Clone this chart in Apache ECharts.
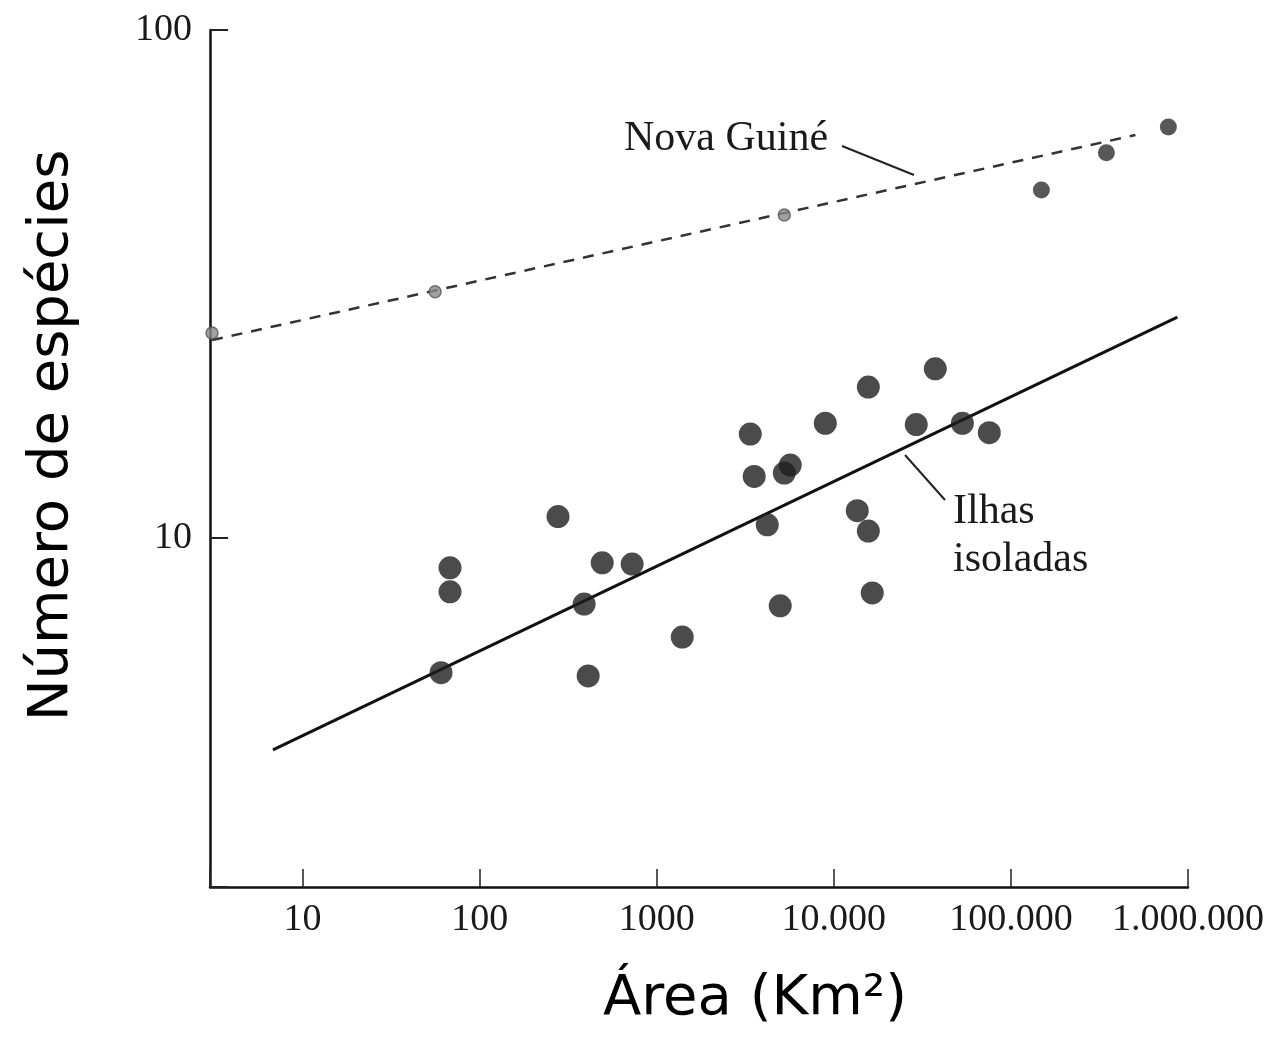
<!DOCTYPE html>
<html>
<head>
<meta charset="utf-8">
<script src="https://cdn.jsdelivr.net/npm/echarts@6/dist/echarts.min.js"></script>
<style>
  html, body { margin: 0; padding: 0; background: #ffffff; }
  #chart { width: 1277px; height: 1047px; }
</style>
</head>
<body>
<div id="chart"></div>
<script>
// ---- Data (área em km², número de espécies) ----
const ilhasArea = [60.5, 68, 68, 277, 389, 410, 492, 726, 1393, 3373, 3550, 4207, 4980, 5250, 5675, 8950, 13560, 15660, 15660, 16480, 29200, 37400, 53200, 75500];
const ilhasEspecies = [5.42, 8.72, 7.82, 11.0, 7.40, 5.34, 8.92, 8.87, 6.37, 16.0, 13.2, 10.6, 7.34, 13.4, 13.9, 16.8, 11.3, 10.3, 19.8, 7.78, 16.7, 21.5, 16.8, 16.1];

const novaGuineArea = [3.08, 56, 5250];
const novaGuineEspecies = [25.3, 30.5, 43.2];
const novaGuineArea2 = [148600, 346000, 775000];
const novaGuineEspecies2 = [48.4, 57.3, 64.4];

// regression lines (endpoints)
const linhaIlhasArea = [6.8, 871000];
const linhaIlhasEspecies = [3.82, 27.2];
const linhaNGArea = [3.08, 505000];
const linhaNGEspecies = [24.5, 62.1];

// tick labels
const xTickValues = [10, 100, 1000, 10000, 100000, 1000000];
const xTickLabels = ['10', '100', '1000', '10.000', '100.000', '1.000.000'];
const yTickValues = [10, 100];
const yTickLabels = ['10', '100'];

const zip = (a, b) => a.map((v, i) => [v, b[i]]);
const lookup = (vals, labels) => (v) => {
  for (let i = 0; i < vals.length; i++) {
    if (Math.abs(Math.log10(v) - Math.log10(vals[i])) < 1e-6) return labels[i];
  }
  return '';
};

const chart = echarts.init(document.getElementById('chart'), null, { renderer: 'canvas' });
const serif = 'Liberation Serif';
const titleFont = 'DejaVu Sans';

chart.setOption({
  backgroundColor: '#ffffff',
  animation: false,
  grid: { left: 210, right: 89, top: 30, bottom: 160, containLabel: false },
  xAxis: {
    type: 'log', logBase: 10, min: 3, max: 1000000,
    name: 'Área (Km²)', nameLocation: 'middle', nameGap: 84,
    nameTextStyle: { fontFamily: titleFont, fontSize: 56, color: '#000', padding: [0, 0, 0, 112] },
    axisLine: { show: true, onZero: false, lineStyle: { color: '#111', width: 2.5 } },
    axisTick: { show: true, inside: true, length: 18, lineStyle: { color: '#222', width: 1.5 } },
    axisLabel: { formatter: lookup(xTickValues, xTickLabels), fontFamily: serif, fontSize: 38, color: '#1a1a1a', margin: 14 },
    minorTick: { show: false },
    splitLine: { show: false }
  },
  yAxis: {
    type: 'log', logBase: 10, min: 2.05, max: 100,
    name: 'Número de espécies', nameLocation: 'middle', nameGap: 130, nameRotate: 90,
    nameTextStyle: { fontFamily: titleFont, fontSize: 56, color: '#000', padding: [0, 0, 0, 46] },
    axisLine: { show: true, onZero: false, lineStyle: { color: '#111', width: 2.5 } },
    axisTick: { show: true, inside: true, length: 18, lineStyle: { color: '#222', width: 2 } },
    axisLabel: { formatter: lookup(yTickValues, yTickLabels), fontFamily: serif, fontSize: 38, color: '#1a1a1a', margin: 18 },
    splitLine: { show: false }
  },
  series: [
    {
      type: 'line', data: zip(linhaNGArea, linhaNGEspecies), symbol: 'none',
      lineStyle: { color: '#333', width: 2.5, type: [11, 9] }, z: 2
    },
    {
      type: 'line', data: zip(linhaIlhasArea, linhaIlhasEspecies), symbol: 'none',
      lineStyle: { color: '#111', width: 3 }, z: 2
    },
    {
      type: 'scatter', data: zip(novaGuineArea, novaGuineEspecies), symbolSize: 12,
      itemStyle: { color: '#8a8a8a', borderColor: '#555', borderWidth: 1.5 }, z: 3
    },
    {
      type: 'scatter', data: zip(novaGuineArea2, novaGuineEspecies2), symbolSize: 17,
      itemStyle: { color: '#2e2e2e' }, z: 3
    },
    {
      type: 'scatter', data: zip(ilhasArea, ilhasEspecies), symbolSize: 23,
      itemStyle: { color: '#1e1e1e' }, z: 3
    }
  ],
  graphic: [
    { type: 'text', left: 624, top: 118, style: { text: 'Nova Guiné', font: '42px "Liberation Serif"', fill: '#1a1a1a' } },
    { type: 'line', shape: { x1: 842, y1: 146, x2: 914, y2: 175 }, style: { stroke: '#222', lineWidth: 2 } },
    { type: 'text', left: 953, top: 488, style: { text: 'Ilhas\nisoladas', font: '42px "Liberation Serif"', fill: '#1a1a1a', lineHeight: 48 } },
    { type: 'line', shape: { x1: 905, y1: 455, x2: 945, y2: 500 }, style: { stroke: '#222', lineWidth: 2 } }
  ]
});
</script>
</body>
</html>
